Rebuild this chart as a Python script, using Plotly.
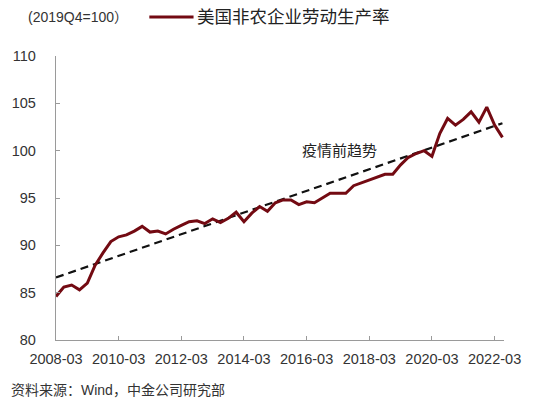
import plotly.graph_objects as go

# Quarterly index values, 2008Q1 .. 2022Q2 (2019Q4 = 100)
quarters = [f"{y}-{m:02d}" for y in range(2008, 2023) for m in (3, 6, 9, 12)][:58]
productivity = [
    84.6, 85.6, 85.8, 85.3, 86.0, 87.9, 89.2, 90.4,
    90.9, 91.1, 91.5, 92.0, 91.4, 91.5, 91.2, 91.7,
    92.1, 92.5, 92.6, 92.3, 92.8, 92.4, 92.85, 93.5,
    92.5, 93.4, 94.1, 93.6, 94.5, 94.8, 94.8, 94.3,
    94.6, 94.5, 95.0, 95.5, 95.5, 95.5, 96.3, 96.6,
    96.9, 97.2, 97.5, 97.5, 98.5, 99.3, 99.7, 100.0,
    99.4, 101.8, 103.4, 102.7, 103.3, 104.1, 103.0, 104.6,
    102.7, 101.4,
]
trend_labels = ["2008-03", "2022-06"]
trend_values = [86.6, 102.9]
tick_labels = ["2008-03", "2010-03", "2012-03", "2014-03", "2016-03", "2018-03", "2020-03", "2022-03"]
series_name = "美国非农企业劳动生产率"
unit_text = "(2019Q4=100）"
trend_name = "疫情前趋势"
source_text = "资料来源：Wind，中金公司研究部"

idx = list(range(len(quarters)))
trend_idx = [quarters.index(q) for q in trend_labels]
tick_idx = [quarters.index(t) for t in tick_labels]

FONT = "Arial, Liberation Sans, Noto Sans CJK SC, sans-serif"
RED = "#730A12"
AXIS = "#9A9A9A"

fig = go.Figure()
fig.add_trace(go.Scatter(x=trend_idx, y=trend_values, mode="lines",
                         line=dict(color="#111111", width=2.2, dash="8px,5px"),
                         showlegend=False, hoverinfo="skip"))
fig.add_trace(go.Scatter(x=idx, y=productivity, mode="lines", name=series_name,
                         line=dict(color=RED, width=3), showlegend=False))

fig.update_layout(
    width=533, height=403,
    margin=dict(l=55, r=22, t=56, b=63),
    paper_bgcolor="white", plot_bgcolor="white",
    font=dict(family=FONT, size=14, color="#333333"),
)
fig.update_xaxes(range=[0, 57.2], tickmode="array", tickvals=tick_idx, ticktext=tick_labels,
                 showline=True, linecolor=AXIS, linewidth=1.3, ticks="inside", ticklen=4,
                 tickcolor=AXIS, showgrid=False, zeroline=False,
                 tickfont=dict(size=14.5, color="#333333"), ticklabelstandoff=5)
fig.update_yaxes(range=[80, 110], dtick=5, tick0=80,
                 showline=True, linecolor=AXIS, linewidth=1.3, ticks="inside", ticklen=4,
                 tickcolor=AXIS, showgrid=False, zeroline=False,
                 tickfont=dict(size=14.5, color="#333333"), ticklabelstandoff=16)

# legend-like header
fig.add_annotation(xref="paper", yref="paper", x=(24 - 55) / 456, y=1 + (56 - 17) / 284,
                   text=unit_text, showarrow=False, xanchor="left", yanchor="middle",
                   font=dict(size=14, color="#333333"))
fig.add_shape(type="line", xref="paper", yref="paper",
              x0=(150 - 55) / 456, x1=(195 - 55) / 456,
              y0=1 + (56 - 17) / 284, y1=1 + (56 - 17) / 284,
              line=dict(color=RED, width=3))
fig.add_annotation(xref="paper", yref="paper", x=(196 - 55) / 456, y=1 + (56 - 17) / 284,
                   text=series_name, showarrow=False, xanchor="left", yanchor="middle",
                   font=dict(size=17.5, color="#222222"))
fig.add_annotation(x=36.2, y=100.05, text=trend_name, showarrow=False,
                   font=dict(size=15, color="#222222"))
fig.add_annotation(xref="paper", yref="paper", x=(7 - 55) / 456, y=-(390 - 340) / 284,
                   text=source_text, showarrow=False, xanchor="left", yanchor="middle",
                   font=dict(size=14, color="#333333"))

fig.write_html("out.html")
